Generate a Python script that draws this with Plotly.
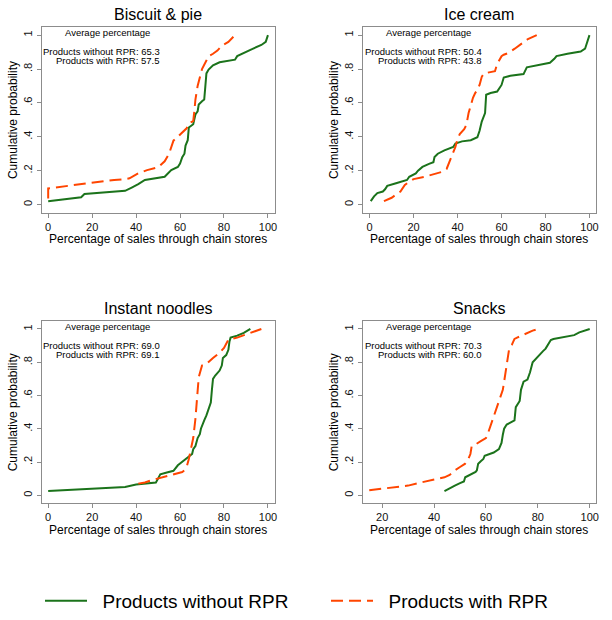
import plotly.graph_objects as go

# ---------------- data ----------------
bp_without_x = [0, 5, 10, 15, 16.5, 20, 30, 35, 38, 41, 44, 50, 53, 56, 59, 60, 61, 62, 62.5, 63.5, 64, 66, 67, 68, 68.5, 70, 71, 71.5, 72, 73, 75, 78, 85, 86, 90, 93, 97, 99, 100]
bp_without_y = [0.02, 0.027, 0.033, 0.043, 0.062, 0.065, 0.075, 0.081, 0.1, 0.12, 0.145, 0.155, 0.164, 0.203, 0.222, 0.242, 0.28, 0.3, 0.348, 0.38, 0.455, 0.474, 0.532, 0.55, 0.59, 0.61, 0.62, 0.696, 0.774, 0.797, 0.822, 0.84, 0.855, 0.876, 0.903, 0.919, 0.942, 0.96, 1.0]
bp_with_x = [0, 0, 10, 20, 30, 35, 37, 41, 45, 50, 53, 55, 57, 59, 61, 63, 64, 66, 66.5, 67, 68, 69, 70, 72, 73, 75, 77, 79, 82, 85]
bp_with_y = [0.035, 0.095, 0.112, 0.13, 0.145, 0.15, 0.155, 0.184, 0.203, 0.22, 0.255, 0.3, 0.377, 0.4, 0.425, 0.45, 0.48, 0.493, 0.55, 0.62, 0.7, 0.745, 0.8, 0.85, 0.876, 0.89, 0.909, 0.938, 0.96, 1.0]

ic_without_x = [0.5, 2, 3.5, 6, 7, 8, 12, 17, 18, 21, 22, 24, 27, 29, 29.5, 31, 34, 38, 39, 42, 46, 49, 50, 51, 52.5, 53, 55, 58, 60, 61, 64, 70, 71.5, 75, 82, 84, 85, 90, 96, 98, 99, 100]
ic_without_y = [0.02, 0.048, 0.068, 0.077, 0.09, 0.11, 0.126, 0.145, 0.164, 0.184, 0.2, 0.222, 0.24, 0.25, 0.28, 0.3, 0.32, 0.34, 0.36, 0.373, 0.38, 0.397, 0.435, 0.49, 0.54, 0.648, 0.658, 0.667, 0.706, 0.75, 0.76, 0.77, 0.81, 0.82, 0.837, 0.86, 0.876, 0.89, 0.903, 0.92, 0.967, 1.0]
ic_with_x = [6.5, 10, 14, 16, 18, 20, 25, 30, 33, 35, 36, 37, 38, 39, 40, 41, 43, 44, 45, 46, 47, 48, 49, 50, 51, 52, 55, 57, 58, 60, 61, 63, 66, 68, 70, 72, 76]
ic_with_y = [0.02, 0.04, 0.077, 0.116, 0.135, 0.15, 0.164, 0.18, 0.193, 0.21, 0.24, 0.27, 0.3, 0.34, 0.387, 0.416, 0.445, 0.47, 0.54, 0.59, 0.63, 0.658, 0.677, 0.706, 0.754, 0.774, 0.783, 0.787, 0.83, 0.876, 0.884, 0.894, 0.92, 0.938, 0.957, 0.977, 1.0]

in_without_x = [0, 20, 35, 40, 45, 49, 50, 51, 54, 57, 59, 61, 64, 65.5, 66, 67, 68, 69, 69.5, 70, 71, 72, 73, 74, 74.5, 75, 76, 78, 79, 79.5, 81, 82, 82.5, 83, 86, 89, 92]
in_without_y = [0.025, 0.04, 0.05, 0.064, 0.07, 0.077, 0.1, 0.126, 0.137, 0.147, 0.18, 0.2, 0.228, 0.248, 0.277, 0.296, 0.344, 0.367, 0.4, 0.42, 0.45, 0.48, 0.52, 0.557, 0.634, 0.7, 0.72, 0.75, 0.78, 0.826, 0.843, 0.875, 0.925, 0.948, 0.96, 0.977, 1.0]
in_with_x = [41, 44, 47, 50, 55, 58, 60, 61, 62, 63, 64, 65, 66, 67, 68, 68.5, 70, 72, 75, 78, 80, 82, 86, 90, 95, 97]
in_with_y = [0.07, 0.077, 0.09, 0.1, 0.12, 0.13, 0.135, 0.14, 0.15, 0.17, 0.218, 0.286, 0.344, 0.46, 0.615, 0.71, 0.78, 0.79, 0.826, 0.857, 0.886, 0.935, 0.948, 0.967, 0.99, 1.0]

sn_without_x = [44, 46, 48, 50, 51.5, 52, 54, 56, 56.5, 57, 58, 59, 59.5, 61, 63, 65, 66, 66.5, 67, 68, 70, 71, 71.5, 72, 73, 73.5, 74, 74.5, 76, 77, 78, 79, 80, 81, 82, 83, 84, 85, 86, 90, 93, 94, 96, 100]
sn_without_y = [0.025, 0.044, 0.058, 0.073, 0.083, 0.108, 0.122, 0.14, 0.15, 0.19, 0.205, 0.218, 0.238, 0.248, 0.257, 0.277, 0.315, 0.364, 0.4, 0.425, 0.44, 0.45, 0.53, 0.54, 0.567, 0.634, 0.658, 0.683, 0.696, 0.74, 0.8, 0.818, 0.83, 0.851, 0.867, 0.882, 0.905, 0.934, 0.94, 0.95, 0.956, 0.963, 0.98, 1.0]
sn_with_x = [15, 20, 25, 30, 35, 40, 44, 46, 48, 50, 52, 53, 54, 54.5, 56, 58, 60, 61, 62, 63, 64, 65, 66, 66.5, 67, 67.5, 68, 68.5, 69, 70, 71, 72, 74, 76, 78, 80]
sn_with_y = [0.03, 0.039, 0.05, 0.058, 0.077, 0.093, 0.108, 0.122, 0.15, 0.17, 0.19, 0.21, 0.248, 0.296, 0.306, 0.325, 0.344, 0.383, 0.43, 0.47, 0.51, 0.557, 0.605, 0.634, 0.683, 0.73, 0.79, 0.838, 0.886, 0.905, 0.94, 0.948, 0.963, 0.977, 0.99, 1.0]

panel_titles = ["Biscuit & pie", "Ice cream", "Instant noodles", "Snacks"]
avg_without = ["65.3", "50.4", "69.0", "70.3"]
avg_with = ["57.5", "43.8", "69.1", "60.0"]
series_names = ["Products without RPR", "Products with RPR"]
y_tickvals = [0, 0.2, 0.4, 0.6, 0.8, 1]
y_ticktext = ["0", ".2", ".4", ".6", ".8", "1"]
x_tickvals_full = [0, 20, 40, 60, 80, 100]
x_tickvals_snacks = [20, 40, 60, 80, 100]

# ---------------- styling ----------------
W, H = 612, 620
FONT = "Liberation Sans, Arial, sans-serif"
GREEN = "#1b731b"
RED = "#ff4500"
FRAME = "#8c8c8c"
NB = "\u00a0\u00a0"

# panel boxes in pixels: (left, right, top, bottom)
boxes = [(42.5, 280.5, 27.7, 216.7),
         (370.5, 609.0, 27.7, 216.7),
         (42.5, 280.5, 327.5, 513.0),
         (370.5, 609.0, 327.5, 513.0)]
x_ranges = [[-3, 103], [-3.2, 103.0], [-3, 103], [12.45, 102.45]]
y_range = [-0.047, 1.047]

data = [
    (bp_without_x, bp_without_y, bp_with_x, bp_with_y),
    (ic_without_x, ic_without_y, ic_with_x, ic_with_y),
    (in_without_x, in_without_y, in_with_x, in_with_y),
    (sn_without_x, sn_without_y, sn_with_x, sn_with_y),
]

fig = go.Figure()
annotations = []
layout_axes = {}
for i, (box, (gx, gy, rx, ry)) in enumerate(zip(boxes, data)):
    n = i + 1
    xa = "x" if n == 1 else f"x{n}"
    ya = "y" if n == 1 else f"y{n}"
    fig.add_trace(go.Scatter(x=gx, y=gy, mode="lines", xaxis=xa, yaxis=ya,
                             line=dict(color=GREEN, width=2),
                             name=NB + series_names[0], showlegend=(n == 1),
                             legendgroup="without"))
    fig.add_trace(go.Scatter(x=rx, y=ry, mode="lines", xaxis=xa, yaxis=ya,
                             line=dict(color=RED, width=2, dash="12px,6px"),
                             name=NB + series_names[1], showlegend=(n == 1),
                             legendgroup="with"))
    l, r, t, b = box
    axis_common = dict(showline=True, linecolor=FRAME, linewidth=1, mirror=True,
                       ticks="outside", ticklen=4, tickcolor=FRAME, tickwidth=1,
                       showgrid=False, zeroline=False,
                       tickfont=dict(family=FONT, size=11, color="#111111"))
    layout_axes["xaxis" if n == 1 else f"xaxis{n}"] = dict(
        axis_common, domain=[l / W, r / W], range=x_ranges[i], anchor=ya,
        tickvals=x_tickvals_snacks if n == 4 else x_tickvals_full)
    layout_axes["yaxis" if n == 1 else f"yaxis{n}"] = dict(
        axis_common, domain=[1 - b / H, 1 - t / H], range=y_range, anchor=xa,
        tickvals=y_tickvals, ticktext=y_ticktext, tickangle=-90)

    xd = f"{xa} domain"
    yd = f"{ya} domain"
    # panel title
    annotations.append(dict(text=panel_titles[i], xref=xd, yref="paper",
                            x=0.5, y=1 - (t - 12.5) / H, xanchor="center", yanchor="middle",
                            showarrow=False, font=dict(family=FONT, size=16, color="#000")))
    # axis titles
    annotations.append(dict(text="Percentage of sales through chain stores", xref=xd, yref="paper",
                            x=0.5, y=1 - (b + 27.5) / H, xanchor="center", yanchor="middle",
                            showarrow=False, font=dict(family=FONT, size=12, color="#000")))
    annotations.append(dict(text="Cumulative probability", xref="paper", yref=yd,
                            x=(l - 29) / W, y=0.5, xanchor="center", yanchor="middle",
                            textangle=-90, showarrow=False,
                            font=dict(family=FONT, size=12, color="#000")))
    # in-plot text
    bh = b - t
    annotations.append(dict(text="Average percentage", xref=xd, yref=yd,
                            x=(110 - 42.5) / 238, y=1 - 5.8 / bh, xanchor="center", yanchor="middle",
                            showarrow=False, font=dict(family=FONT, size=9.5, color="#000")))
    annotations.append(dict(text=f"Products without RPR: {avg_without[i]}", xref=xd, yref=yd,
                            x=(166 - 42.5) / 238, y=1 - 24.5 / bh, xanchor="right", yanchor="middle",
                            showarrow=False, font=dict(family=FONT, size=9.5, color="#000")))
    annotations.append(dict(text=f"Products with RPR: {avg_with[i]}", xref=xd, yref=yd,
                            x=(166 - 42.5) / 238, y=1 - 34.3 / bh, xanchor="right", yanchor="middle",
                            showarrow=False, font=dict(family=FONT, size=9.5, color="#000")))

fig.update_layout(
    width=W, height=H,
    margin=dict(l=0, r=0, t=0, b=0),
    paper_bgcolor="white", plot_bgcolor="white",
    annotations=annotations,
    showlegend=True,
    legend=dict(orientation="h", x=0.5 + 39.5 / W, xanchor="center", y=1 - 613 / H, yanchor="middle",
                font=dict(family=FONT, size=19, color="#000"),
                itemwidth=42, entrywidth=229, entrywidthmode="pixels",
                bgcolor="rgba(0,0,0,0)", traceorder="normal"),
    **layout_axes,
)

fig.write_html(
    "out.html",
    post_script=("document.body.style.margin='0';"
                 "var s=document.createElement('style');"
                 "s.textContent='.modebar-container{display:none !important;}';"
                 "document.head.appendChild(s);"),
)
